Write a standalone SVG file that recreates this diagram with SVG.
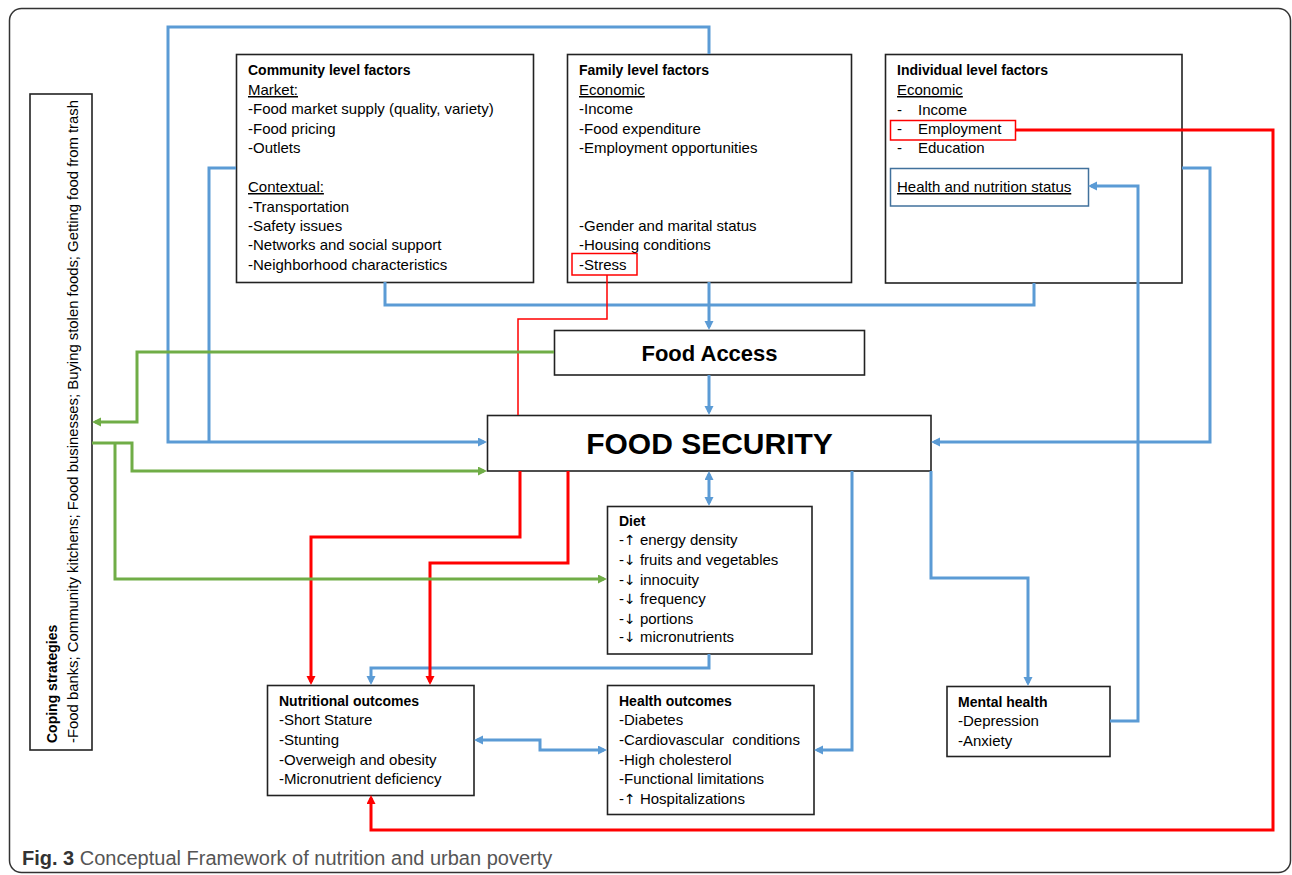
<svg xmlns="http://www.w3.org/2000/svg" width="1292" height="875" viewBox="0 0 1292 875">
<style>
text{font-family:"Liberation Sans",Arial,sans-serif;font-size:15px;fill:#000}
.b{font-weight:bold;font-size:14px}
.u{text-decoration:underline}
.ar{font-family:"DejaVu Sans",sans-serif;font-size:14px}
.fa{font-weight:bold;font-size:22px}
.fs{font-weight:bold;font-size:30px}
.cap{font-size:20px;fill:#555}
.capb{font-weight:bold;fill:#333}
.box{fill:#fff;stroke:#222;stroke-width:1.6}
.bl{fill:none;stroke:#5B9BD5;stroke-width:3}
.gr{fill:none;stroke:#70AD47;stroke-width:3}
.rd{fill:none;stroke:#FF0000;stroke-width:3}
.rdt{fill:none;stroke:#FF0000;stroke-width:1.5}
.hl{fill:none;stroke:#FF0000;stroke-width:1.5}
</style>
<defs>
<marker id="ab" markerUnits="userSpaceOnUse" markerWidth="10" markerHeight="10" refX="6" refY="4.5" orient="auto-start-reverse"><path d="M0,0 L9,4.5 L0,9 z" fill="#5B9BD5"/></marker>
<marker id="ag" markerUnits="userSpaceOnUse" markerWidth="10" markerHeight="10" refX="6" refY="4.5" orient="auto-start-reverse"><path d="M0,0 L9,4.5 L0,9 z" fill="#70AD47"/></marker>
<marker id="ar" markerUnits="userSpaceOnUse" markerWidth="10" markerHeight="10" refX="6" refY="4.5" orient="auto-start-reverse"><path d="M0,0 L9,4.5 L0,9 z" fill="#FF0000"/></marker>
</defs>
<rect x="9.5" y="8.5" width="1281" height="864" rx="12" fill="#fff" stroke="#333" stroke-width="1.5"/>

<g id="coping">
<rect class="box" x="30" y="94" width="62" height="656"/>
<text class="b" transform="translate(57,743) rotate(-90)">Coping strategies</text>
<text transform="translate(78,743) rotate(-90)" textLength="643" lengthAdjust="spacingAndGlyphs">-Food banks; Community kitchens; Food businesses;  Buying stolen foods; Getting food from trash</text>
</g>

<g id="community">
<rect class="box" x="236.5" y="54.5" width="297" height="228"/>
<text class="b" x="248" y="75">Community level factors</text>
<text class="u" x="248" y="95">Market:</text>
<text x="248" y="114">-Food market supply (quality, variety)</text>
<text x="248" y="134">-Food pricing</text>
<text x="248" y="153">-Outlets</text>
<text class="u" x="248" y="192">Contextual:</text>
<text x="248" y="212">-Transportation</text>
<text x="248" y="231">-Safety issues</text>
<text x="248" y="250">-Networks and social support</text>
<text x="248" y="270">-Neighborhood characteristics</text>
</g>

<g id="family">
<rect class="box" x="567.5" y="54.5" width="284" height="228"/>
<text class="b" x="579" y="75">Family level factors</text>
<text class="u" x="579" y="95">Economic</text>
<text x="579" y="114">-Income</text>
<text x="579" y="134">-Food expenditure</text>
<text x="579" y="153">-Employment opportunities</text>
<text x="579" y="231">-Gender and marital status</text>
<text x="579" y="250">-Housing conditions</text>
<text x="579" y="270">-Stress</text>
<rect class="hl" x="572" y="253.5" width="65" height="21.5"/>
</g>

<g id="individual">
<rect class="box" x="885.5" y="54.5" width="296.5" height="228.5"/>
<text class="b" x="897" y="75">Individual level factors</text>
<text class="u" x="897" y="95">Economic</text>
<text x="897" y="115">-</text><text x="918" y="115">Income</text>
<text x="897" y="134">-</text><text x="918" y="134">Employment</text>
<text x="897" y="153">-</text><text x="918" y="153">Education</text>
<rect class="hl" x="890.5" y="120.5" width="125" height="19.5"/>
<rect x="890.5" y="168.5" width="198" height="37.5" fill="#fff" stroke="#41719C" stroke-width="1.5"/>
<text class="u" x="897" y="192">Health and nutrition status</text>
</g>

<g id="food-access">
<rect class="box" x="554.5" y="330.5" width="310" height="44.5"/>
<text class="fa" x="709.5" y="361" text-anchor="middle">Food Access</text>
</g>

<g id="food-security">
<rect class="box" x="487.5" y="415.5" width="443.5" height="55.5"/>
<text class="fs" x="709.5" y="454" text-anchor="middle">FOOD SECURITY</text>
</g>

<g id="diet">
<rect class="box" x="607.5" y="506.5" width="204.5" height="147.5"/>
<text class="b" x="619" y="526">Diet</text>
<text x="619" y="545">-<tspan class="ar">↑</tspan> energy density</text>
<text x="619" y="565">-<tspan class="ar">↓</tspan> fruits and vegetables</text>
<text x="619" y="585">-<tspan class="ar">↓</tspan> innocuity</text>
<text x="619" y="604">-<tspan class="ar">↓</tspan> frequency</text>
<text x="619" y="624">-<tspan class="ar">↓</tspan> portions</text>
<text x="619" y="642">-<tspan class="ar">↓</tspan> micronutrients</text>
</g>

<g id="nutritional-outcomes">
<rect class="box" x="267.5" y="685.5" width="206.5" height="110"/>
<text class="b" x="279" y="706">Nutritional outcomes</text>
<text x="279" y="725">-Short Stature</text>
<text x="279" y="745">-Stunting</text>
<text x="279" y="765">-Overweigh and obesity</text>
<text x="279" y="784">-Micronutrient deficiency</text>
</g>

<g id="health-outcomes">
<rect class="box" x="607.5" y="685.5" width="206.5" height="129"/>
<text class="b" x="619" y="706">Health outcomes</text>
<text x="619" y="725">-Diabetes</text>
<text x="619" y="745" xml:space="preserve">-Cardiovascular  conditions</text>
<text x="619" y="765">-High cholesterol</text>
<text x="619" y="784">-Functional limitations</text>
<text x="619" y="804">-<tspan class="ar">↑</tspan> Hospitalizations</text>
</g>

<g id="mental-health">
<rect class="box" x="947" y="686.5" width="163" height="70"/>
<text class="b" x="958" y="707">Mental health</text>
<text x="958" y="726">-Depression</text>
<text x="958" y="746">-Anxiety</text>
</g>

<g id="connectors">
<path class="bl" d="M709,54 V27 H168 V442 H484" marker-end="url(#ab)"/>
<path class="bl" d="M236,168 H209 V442"/>
<path class="bl" d="M385,282 V305 H1034 V283"/>
<path class="bl" d="M709,282 V327" marker-end="url(#ab)"/>
<path class="bl" d="M709,375 V412" marker-end="url(#ab)"/>
<path class="bl" d="M1182,168 H1210 V442 H934" marker-end="url(#ab)"/>
<path class="bl" d="M1110,721 H1138 V186 H1091" marker-end="url(#ab)"/>
<path class="bl" d="M931,471 V578 H1028 V683" marker-end="url(#ab)"/>
<path class="bl" d="M852,471 V750 H817" marker-end="url(#ab)"/>
<path class="bl" d="M709,474 V503" marker-start="url(#ab)" marker-end="url(#ab)"/>
<path class="bl" d="M709,654 V668 H371 V682" marker-end="url(#ab)"/>
<path class="bl" d="M477,740 H540 V750 H604" marker-start="url(#ab)" marker-end="url(#ab)"/>
<path class="rdt" d="M607,275 V319 H518 V415"/>
<path class="rd" d="M520,471 V537 H311 V682" marker-end="url(#ar)"/>
<path class="rd" d="M568,471 V563 H430 V682" marker-end="url(#ar)"/>
<path class="rd" d="M1015,130 H1273 V830 H371 V798" marker-end="url(#ar)"/>
<path class="gr" d="M554,352 H137 V422 H95" marker-end="url(#ag)"/>
<path class="gr" d="M92,443 H132 V471 H484" marker-end="url(#ag)"/>
<path class="gr" d="M115,443 V579 H604" marker-end="url(#ag)"/>
</g>

<g id="caption">
<text class="cap" x="22" y="865"><tspan class="capb">Fig. 3</tspan> Conceptual Framework of nutrition and urban poverty</text>
</g>
</svg>
